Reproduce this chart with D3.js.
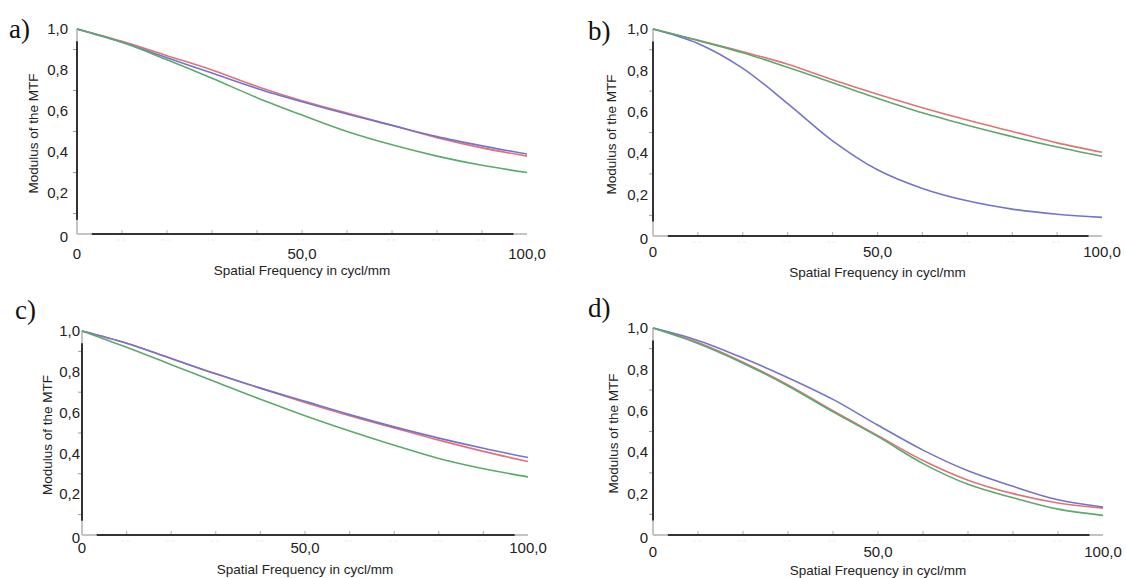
<!DOCTYPE html>
<html>
<head>
    <meta charset="utf-8">
    <title>mtf-panels</title>
    <script src="https://cdn.jsdelivr.net/npm/d3@7"></script>
    <style>
        body { margin: 0; background: #fff; }
        text { font-family: Arial, "Liberation Sans", sans-serif; fill: #222; }
        .letter { font-family: "Times New Roman", "Liberation Serif", serif; font-size: 27px; fill: #111; }
    </style>
</head>
<body>
<div id="app"></div>
<script>
    // spatial frequency samples (cycl/mm)
    var freq = [0, 10, 20, 30, 40, 50, 60, 70, 80, 90, 100];

    // panel a
    var aRed   = [1, 0.94, 0.87, 0.80, 0.72, 0.65, 0.59, 0.53, 0.47, 0.42, 0.38];
    var aBlue  = [1, 0.935, 0.86, 0.785, 0.71, 0.645, 0.585, 0.53, 0.475, 0.43, 0.39];
    var aGreen = [1, 0.935, 0.85, 0.76, 0.665, 0.58, 0.50, 0.435, 0.38, 0.335, 0.30];
    // panel b
    var bRed   = [1, 0.945, 0.89, 0.83, 0.755, 0.685, 0.62, 0.56, 0.505, 0.45, 0.405];
    var bBlue  = [1, 0.93, 0.81, 0.64, 0.46, 0.32, 0.23, 0.17, 0.13, 0.105, 0.09];
    var bGreen = [1, 0.945, 0.885, 0.815, 0.74, 0.665, 0.595, 0.535, 0.48, 0.43, 0.385];
    // panel c
    var cRed   = [1, 0.94, 0.865, 0.79, 0.72, 0.65, 0.585, 0.525, 0.465, 0.41, 0.36];
    var cBlue  = [1, 0.94, 0.865, 0.79, 0.72, 0.655, 0.59, 0.53, 0.475, 0.425, 0.38];
    var cGreen = [1, 0.92, 0.835, 0.75, 0.665, 0.585, 0.51, 0.44, 0.375, 0.325, 0.285];
    // panel d
    var dRed   = [1, 0.93, 0.835, 0.725, 0.60, 0.48, 0.36, 0.265, 0.20, 0.155, 0.13];
    var dBlue  = [1, 0.94, 0.855, 0.76, 0.655, 0.53, 0.41, 0.31, 0.235, 0.17, 0.135];
    var dGreen = [1, 0.925, 0.83, 0.72, 0.595, 0.475, 0.345, 0.245, 0.18, 0.125, 0.095];

    var yTicks = [0, 0.2, 0.4, 0.6, 0.8, 1.0];
    var yTickLabels = ["0", "0,2", "0,4", "0,6", "0,8", "1,0"];
    var xTicks = [0, 50, 100];
    var xTickLabels = ["0", "50,0", "100,0"];
    var letters = ["a)", "b)", "c)", "d)"];

    var colors = { red: "#e2727a", blue: "#7474cc", green: "#5aaa6c" };

    // layout of each panel (pixel boxes)
    var panels = [
        { x0: 77,  x1: 527,  yTop: 29,  yBot: 234, lx: 9,   ly: 38,  titleX: 33,  xLabY: 259, xTitleY: 275, labR: 68,
          series: [aRed, aBlue, aGreen] },
        { x0: 653, x1: 1102, yTop: 29,  yBot: 236, lx: 588, ly: 40,  titleX: 611, xLabY: 257, xTitleY: 277, labR: 648,
          series: [bRed, bBlue, bGreen] },
        { x0: 82,  x1: 528,  yTop: 331, yBot: 535, lx: 15,  ly: 319, titleX: 47,  xLabY: 553, xTitleY: 574, labR: 80,
          series: [cRed, cBlue, cGreen] },
        { x0: 653, x1: 1103, yTop: 328, yBot: 535, lx: 588, ly: 317, titleX: 613, xLabY: 557, xTitleY: 575, labR: 648,
          series: [dRed, dBlue, dGreen] }
    ];
    var seriesColors = [colors.red, colors.blue, colors.green];

    var svg = d3.select("#app").append("svg").attr("width", 1126).attr("height", 578);

    panels.forEach(function (p, pi) {
        var x = d3.scaleLinear().domain([0, 100]).range([p.x0, p.x1]);
        var y = d3.scaleLinear().domain([0, 1]).range([p.yBot, p.yTop]);
        var g = svg.append("g");

        // light axis lines over full extent
        g.append("line").attr("x1", x(0)).attr("x2", x(100)).attr("y1", y(0)).attr("y2", y(0))
            .attr("stroke", "#c4c4c4").attr("stroke-width", 2);
        g.append("line").attr("x1", x(0)).attr("x2", x(0)).attr("y1", y(0)).attr("y2", y(1))
            .attr("stroke", "#c4c4c4").attr("stroke-width", 2);
        // dark inner parts
        g.append("line").attr("x1", x(3.3)).attr("x2", x(97)).attr("y1", y(0)).attr("y2", y(0))
            .attr("stroke", "#333").attr("stroke-width", 2);
        g.append("line").attr("x1", x(0)).attr("x2", x(0)).attr("y1", y(0.07)).attr("y2", y(0.94))
            .attr("stroke", "#333").attr("stroke-width", 2);

        // minor ticks
        g.selectAll(".xt").data(d3.range(10, 100, 10)).enter().append("line")
            .attr("x1", function (d) { return x(d); }).attr("x2", function (d) { return x(d); })
            .attr("y1", y(0) - 1).attr("y2", y(0) - 4)
            .attr("stroke", "#b0b0b0").attr("stroke-width", 1);
        g.selectAll(".xd").data(d3.range(10, 100, 10)).enter().append("line")
            .attr("x1", function (d) { return x(d) - 5; }).attr("x2", function (d) { return x(d) + 5; })
            .attr("y1", y(0) + 6).attr("y2", y(0) + 6)
            .attr("stroke", "#ececec").attr("stroke-width", 1).attr("stroke-dasharray", "3,2");
        g.selectAll(".yt").data([0.1, 0.3, 0.5, 0.7, 0.9]).enter().append("line")
            .attr("x1", x(0) - 1).attr("x2", x(0) - 4)
            .attr("y1", function (d) { return y(d); }).attr("y2", function (d) { return y(d); })
            .attr("stroke", "#9a9a9a").attr("stroke-width", 1);

        // tick labels
        g.selectAll(".yl").data(yTicks).enter().append("text")
            .attr("x", p.labR).attr("y", function (d) { return y(d) + (d === 0 ? 3 : 0); })
            .attr("dy", "0.35em").attr("text-anchor", "end").attr("font-size", 15)
            .text(function (d, i) { return yTickLabels[i]; });
        g.selectAll(".xl").data(xTicks).enter().append("text")
            .attr("x", function (d) { return x(d); }).attr("y", p.xLabY)
            .attr("text-anchor", "middle").attr("font-size", 15)
            .text(function (d, i) { return xTickLabels[i]; });

        // axis titles
        g.append("text").attr("x", x(50)).attr("y", p.xTitleY)
            .attr("text-anchor", "middle").attr("font-size", 13.5)
            .text("Spatial Frequency in cycl/mm");
        g.append("text")
            .attr("transform", "translate(" + p.titleX + "," + ((y(0) + y(1)) / 2 + 2) + ") rotate(-90)")
            .attr("text-anchor", "middle").attr("dy", "0.35em").attr("font-size", 13.5)
            .text("Modulus of the MTF");

        // panel letter
        g.append("text").attr("class", "letter").attr("x", p.lx).attr("y", p.ly).text(letters[pi]);

        // curves
        var line = d3.line()
            .x(function (d, i) { return x(freq[i]); })
            .y(function (d) { return y(d); })
            .curve(d3.curveCatmullRom.alpha(0.5));
        p.series.forEach(function (s, si) {
            g.append("path").datum(s).attr("d", line)
                .attr("fill", "none").attr("stroke", seriesColors[si]).attr("stroke-width", 1.6);
        });
    });
</script>
</body>
</html>
